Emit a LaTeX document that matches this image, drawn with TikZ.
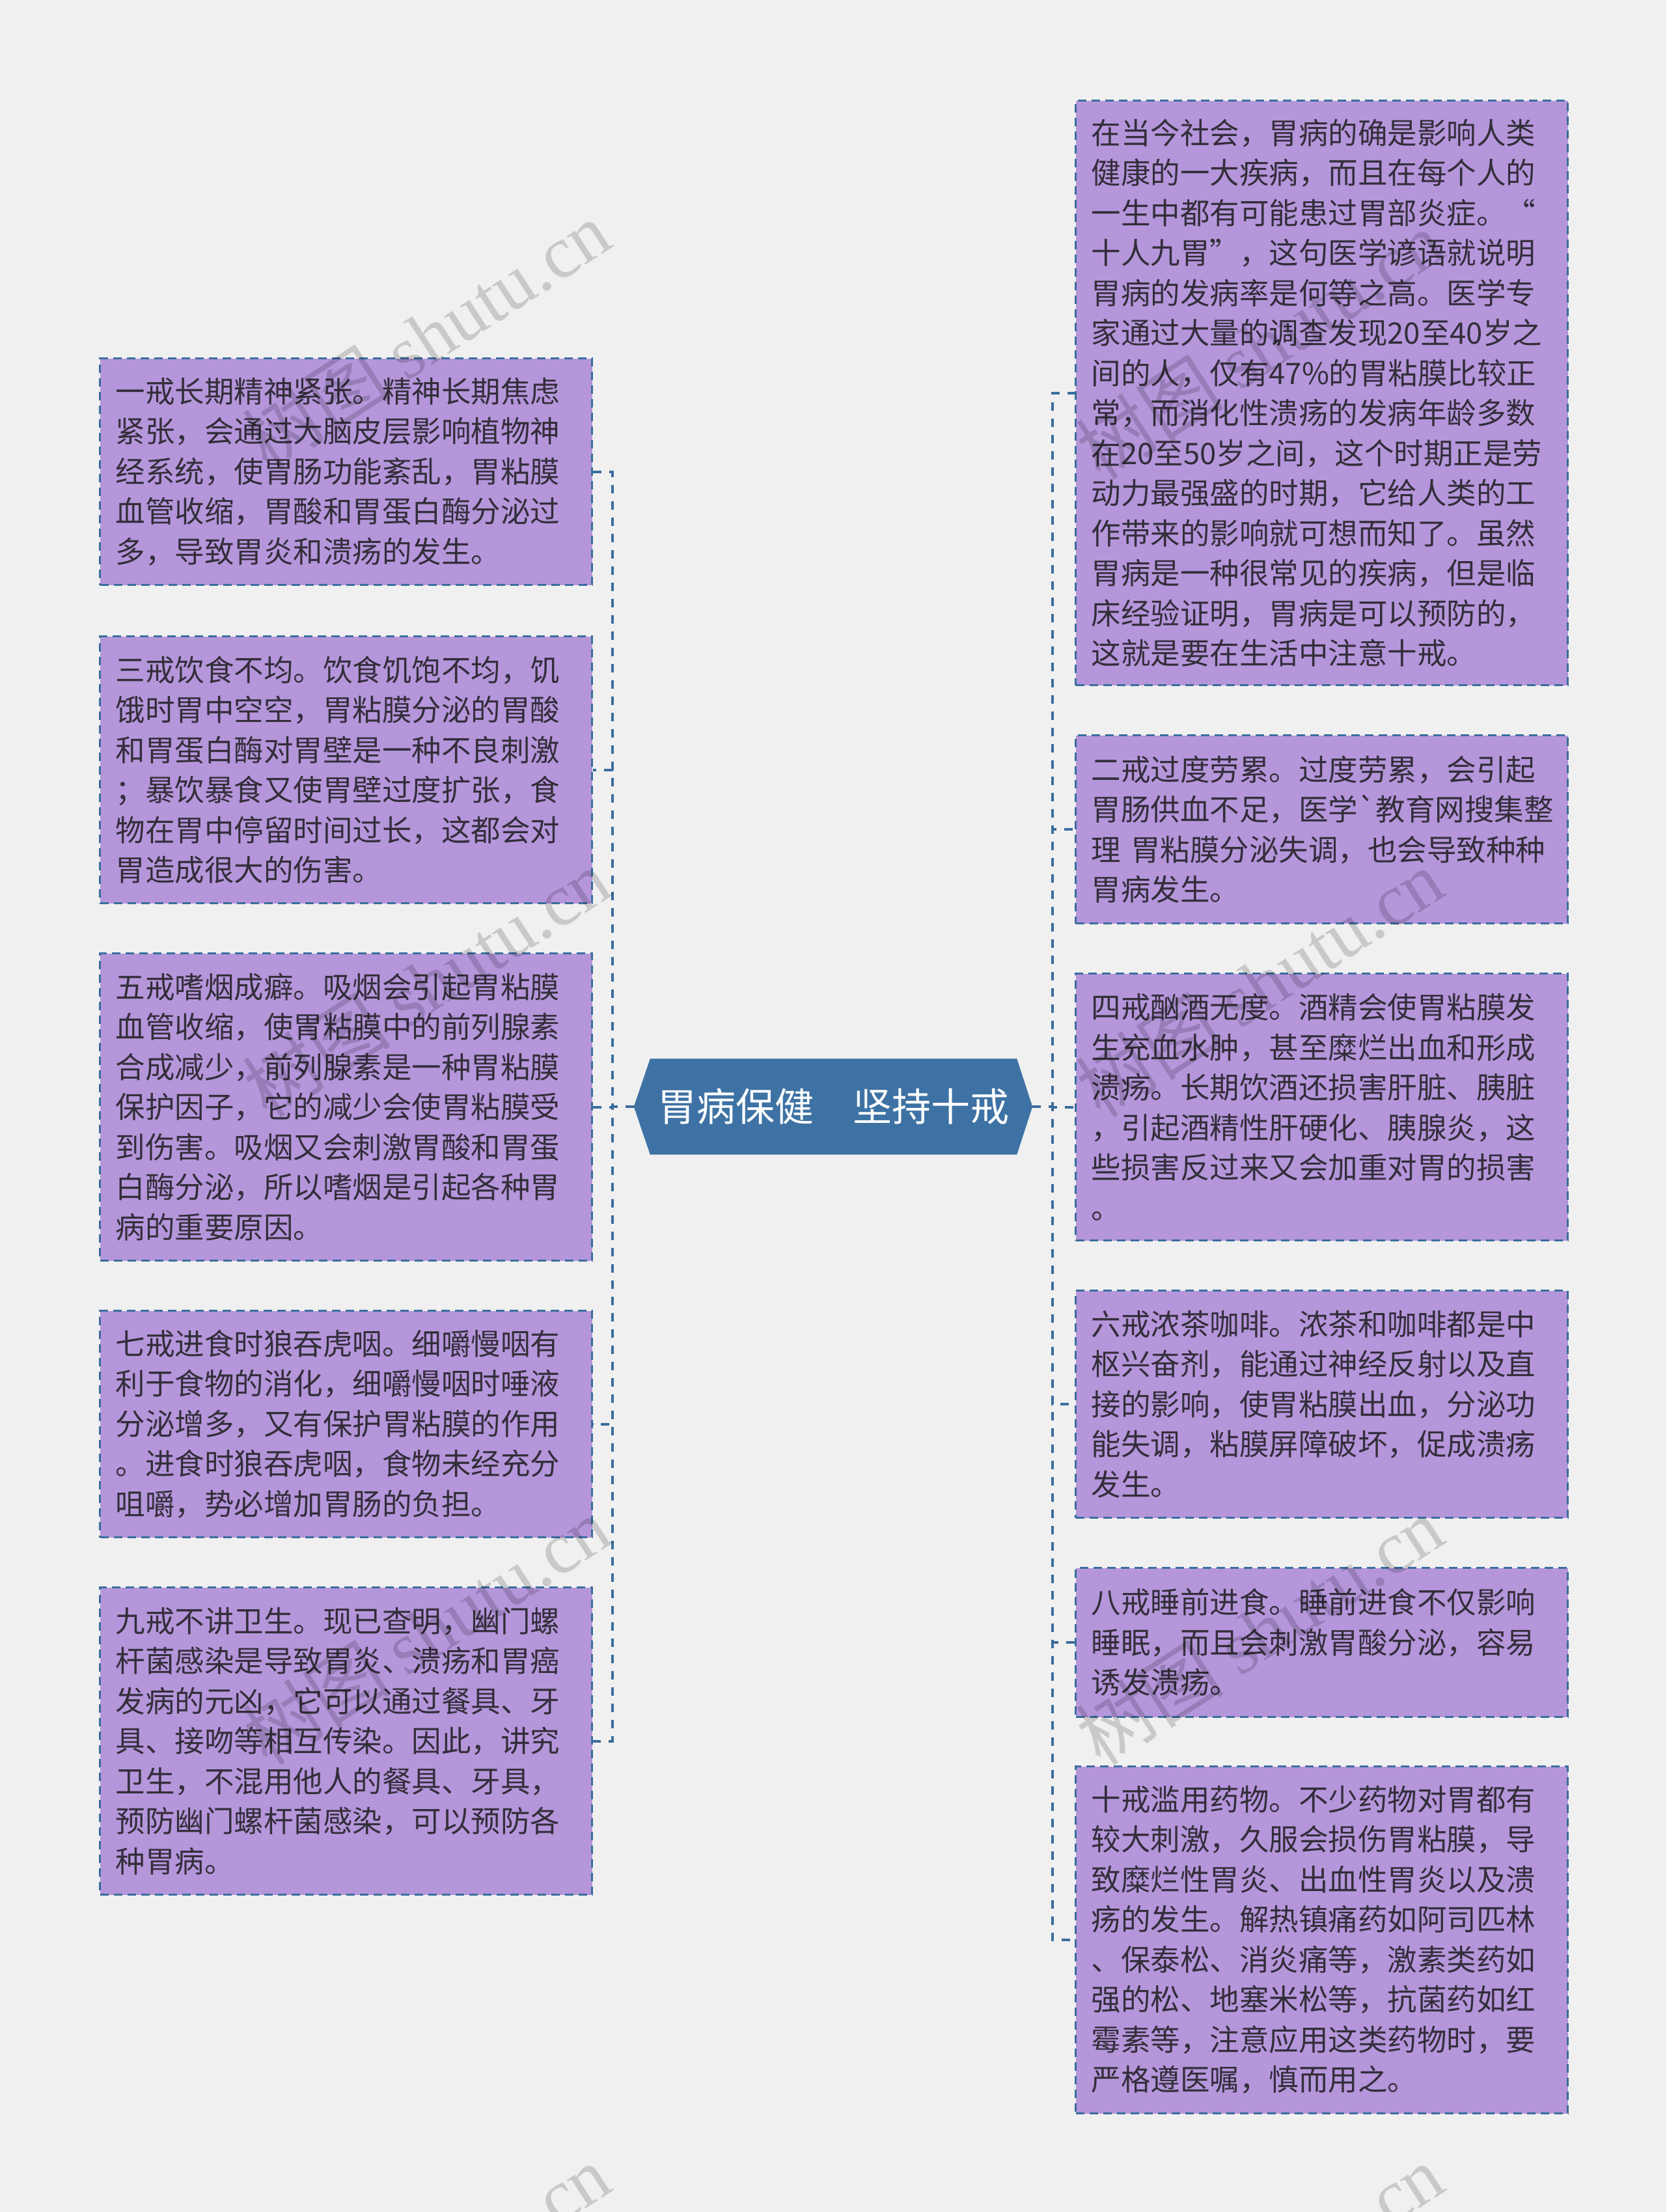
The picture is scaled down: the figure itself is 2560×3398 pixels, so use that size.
\documentclass[tikz,border=0pt]{standalone}
\usepackage{fontspec}
\setmainfont{Noto Sans CJK SC}[Ligatures=TeXOff]
\newfontfamily\wmlatin{Liberation Serif}
\usetikzlibrary{backgrounds,calc}
\definecolor{bgc}{HTML}{F0F0F0}
\definecolor{boxfill}{HTML}{B596DB}
\definecolor{lineblue}{HTML}{3A6D9D}
\definecolor{hexblue}{HTML}{3E72A4}
\definecolor{txt}{HTML}{332E3A}
\newcommand{\boxfont}{\fontsize{45.5pt}{61.5pt}\selectfont}
\newcommand{\titlefont}{\fontsize{60pt}{60pt}\selectfont}
\newcommand{\wmfont}{\fontsize{114pt}{114pt}\selectfont}
\begin{document}
\begin{tikzpicture}[x=1pt,y=1pt,
  box/.style={draw=lineblue, line width=3pt, dash pattern=on 13pt off 8pt,
    fill=boxfill, anchor=north west, minimum width=756pt, inner xsep=24pt,
    inner ysep=0pt, text width=708pt, align=left, font=\boxfont, text=txt},
  conn/.style={draw=lineblue, line width=4pt, dash pattern=on 13pt off 12pt},
  rootbox/.style={minimum width=612pt, minimum height=147pt, inner sep=0pt},
  titletext/.style={font=\titlefont, text=white, inner sep=0pt},
  wm/.style={font=\wmfont, text=black, opacity=0.16, rotate=33, inner sep=0pt}]
\useasboundingbox (0,0) rectangle (2560,-3398);
\fill[bgc] (0,0) rectangle (2560,-3398);

% root
\node[rootbox] (root) at (1280,-1700) {};
\fill[hexblue] (root.west) -- ([xshift=25pt]root.north west) -- ([xshift=-24pt]root.north east)
  -- (root.east) -- ([xshift=-24pt]root.south east) -- ([xshift=25pt]root.south west) -- cycle;
\node[titletext] (title) at (root.center) {胃病保健　坚持十戒};

% left boxes
\node[box, minimum height=348pt] (b1) at (152,-549) {一戒长期精神紧张。精神长期焦虑\\紧张，会通过大脑皮层影响植物神\\经系统，使胃肠功能紊乱，胃粘膜\\血管收缩，胃酸和胃蛋白酶分泌过\\多，导致胃炎和溃疡的发生。};
\node[box, minimum height=410pt] (b3) at (152,-976) {三戒饮食不均。饮食饥饱不均，饥\\饿时胃中空空，胃粘膜分泌的胃酸\\和胃蛋白酶对胃壁是一种不良刺激\\；暴饮暴食又使胃壁过度扩张，食\\物在胃中停留时间过长，这都会对\\胃造成很大的伤害。};
\node[box, minimum height=472pt] (b5) at (152,-1463) {五戒嗜烟成癖。吸烟会引起胃粘膜\\血管收缩，使胃粘膜中的前列腺素\\合成减少，前列腺素是一种胃粘膜\\保护因子，它的减少会使胃粘膜受\\到伤害。吸烟又会刺激胃酸和胃蛋\\白酶分泌，所以嗜烟是引起各种胃\\病的重要原因。};
\node[box, minimum height=348pt] (b7) at (152,-2012) {七戒进食时狼吞虎咽。细嚼慢咽有\\利于食物的消化，细嚼慢咽时唾液\\分泌增多，又有保护胃粘膜的作用\\。进食时狼吞虎咽，食物未经充分\\咀嚼，势必增加胃肠的负担。};
\node[box, minimum height=472pt] (b9) at (152,-2437) {九戒不讲卫生。现已查明，幽门螺\\杆菌感染是导致胃炎、溃疡和胃癌\\发病的元凶，它可以通过餐具、牙\\具、接吻等相互传染。因此，讲究\\卫生，不混用他人的餐具、牙具，\\预防幽门螺杆菌感染，可以预防各\\种胃病。};

% right boxes
\node[box, minimum height=898pt] (b0) at (1651,-153) {在当今社会，胃病的确是影响人类\\健康的一大疾病，而且在每个人的\\一生中都有可能患过胃部炎症。“\\十人九胃”，这句医学谚语就说明\\胃病的发病率是何等之高。医学专\\家通过大量的调查发现20至40岁之\\间的人，仅有47\%的胃粘膜比较正\\常，而消化性溃疡的发病年龄多数\\在20至50岁之间，这个时期正是劳\\动力最强盛的时期，它给人类的工\\作带来的影响就可想而知了。虽然\\胃病是一种很常见的疾病，但是临\\床经验证明，胃病是可以预防的，\\这就是要在生活中注意十戒。};
\node[box, minimum height=289pt] (b2) at (1651,-1128) {二戒过度劳累。过度劳累，会引起\\胃肠供血不足，医学`教育网搜集整\\理~胃粘膜分泌失调，也会导致种种\\胃病发生。};
\node[box, minimum height=410pt] (b4) at (1651,-1494) {四戒酗酒无度。酒精会使胃粘膜发\\生充血水肿，甚至糜烂出血和形成\\溃疡。长期饮酒还损害肝脏、胰脏\\，引起酒精性肝硬化、胰腺炎，这\\些损害反过来又会加重对胃的损害\\。};
\node[box, minimum height=349pt] (b6) at (1651,-1981) {六戒浓茶咖啡。浓茶和咖啡都是中\\枢兴奋剂，能通过神经反射以及直\\接的影响，使胃粘膜出血，分泌功\\能失调，粘膜屏障破坏，促成溃疡\\发生。};
\node[box, minimum height=229pt] (b8) at (1651,-2407) {八戒睡前进食。睡前进食不仅影响\\睡眠，而且会刺激胃酸分泌，容易\\诱发溃疡。};
\node[box, minimum height=533pt] (b10) at (1651,-2712) {十戒滥用药物。不少药物对胃都有\\较大刺激，久服会损伤胃粘膜，导\\致糜烂性胃炎、出血性胃炎以及溃\\疡的发生。解热镇痛药如阿司匹林\\、保泰松、消炎痛等，激素类药如\\强的松、地塞米松等，抗菌药如红\\霉素等，注意应用这类药物时，要\\严格遵医嘱，慎而用之。};

% connectors
\coordinate (lt) at (941,-1700);
\coordinate (rt) at (1617,-1700);
\foreach \b in {b1,b3,b5,b7,b9}{
  \draw[conn] (root.west) -- (lt) |- (\b.east);
}
\foreach \b in {b0,b2,b4,b6,b8,b10}{
  \draw[conn] (root.east) -- (rt) |- (\b.west);
}

% watermarks
\node[wm] (w1) at (655,-515) {树图 {\wmlatin shutu.cn}};
\node[wm] (w2) at (1935,-530) {树图 {\wmlatin shutu.cn}};
\node[wm] (w3) at (655,-1510) {树图 {\wmlatin shutu.cn}};
\node[wm] (w4) at (1935,-1510) {树图 {\wmlatin shutu.cn}};
\node[wm] (w5) at (655,-2505) {树图 {\wmlatin shutu.cn}};
\node[wm] (w6) at (1935,-2505) {树图 {\wmlatin shutu.cn}};
\node[wm] (w7) at (655,-3500) {树图 {\wmlatin shutu.cn}};
\node[wm] (w8) at (1935,-3500) {树图 {\wmlatin shutu.cn}};
\end{tikzpicture}
\end{document}
